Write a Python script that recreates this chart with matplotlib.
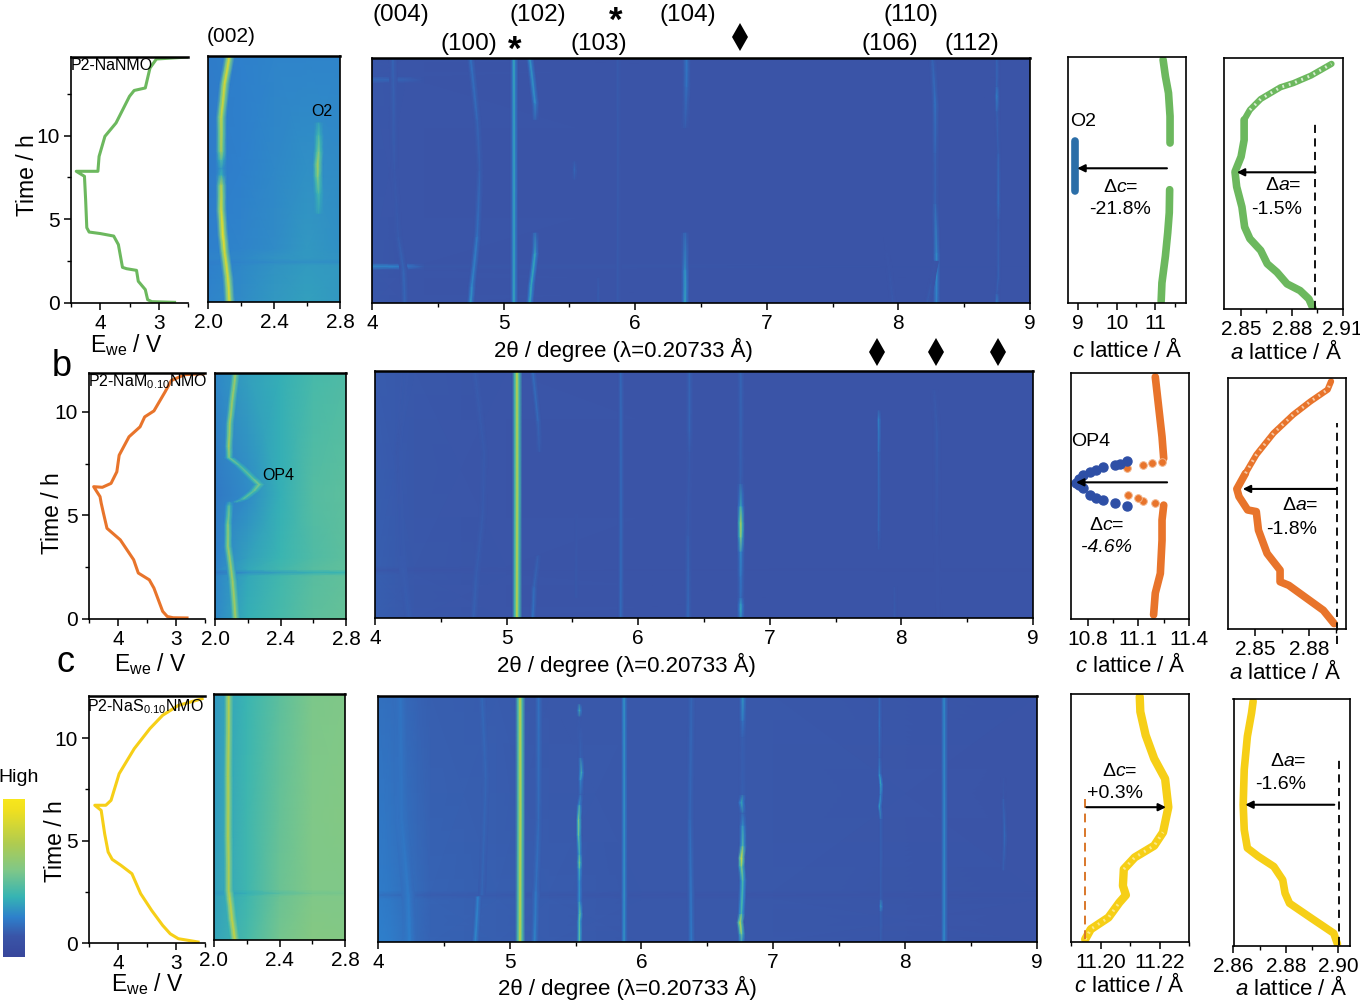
import numpy as np
import matplotlib
matplotlib.use("Agg")
import matplotlib.pyplot as plt
from matplotlib.colors import LinearSegmentedColormap
from matplotlib.lines import Line2D
from matplotlib.ticker import MultipleLocator

plt.rcParams['font.family'] = ['Liberation Sans', 'DejaVu Sans']
plt.rcParams['mathtext.fontset'] = 'custom'
plt.rcParams['mathtext.rm'] = 'Liberation Sans'
plt.rcParams['mathtext.it'] = 'Liberation Sans:italic'
plt.rcParams['mathtext.bf'] = 'Liberation Sans:bold'

W, H = 1360, 1005
fig = plt.figure(figsize=(W / 100, H / 100), dpi=100, facecolor='white')

cmap = LinearSegmentedColormap.from_list('xrd', [
    (0.00, '#38479c'), (0.13, '#3a55a8'), (0.25, '#2e80cc'), (0.38, '#36b4b4'),
    (0.55, '#80c888'), (0.72, '#b0cc50'), (0.93, '#f0e020'), (1.00, '#f8e71c')])

# ---------- voltage curves ----------
a_E = [2.73, 3.12, 3.19, 3.23, 3.35, 3.38, 3.55, 3.62, 3.69, 3.77, 4.0, 4.19, 4.23, 4.25, 4.27, 4.41, 4.04, 4.02, 3.92, 3.73, 3.5, 3.42, 3.23, 3.15, 3.04, 2.5]
a_Et = [0.04, 0.08, 0.2, 0.8, 1.3, 1.95, 2.05, 2.13, 3.49, 4.0, 4.15, 4.24, 4.5, 6.18, 7.57, 7.87, 7.87, 8.76, 9.96, 10.76, 12.35, 12.7, 12.85, 14.04, 14.58, 14.7]
b_E = [2.81, 3.05, 3.15, 3.23, 3.38, 3.46, 3.65, 3.73, 3.96, 4.19, 4.25, 4.29, 4.31, 4.42, 4.27, 4.12, 4.02, 3.98, 3.81, 3.62, 3.54, 3.38, 3.19, 3.08, 2.85, 2.5]
b_Et = [0.05, 0.06, 0.12, 0.37, 1.49, 1.89, 2.22, 2.86, 3.82, 4.38, 5.1, 5.6, 5.91, 6.39, 6.36, 6.55, 7.11, 7.91, 8.8, 9.28, 9.76, 10.05, 10.96, 11.52, 11.8, 11.85]
c_E = [2.62, 2.96, 3.1, 3.23, 3.42, 3.61, 3.76, 3.95, 4.1, 4.17, 4.23, 4.29, 4.4, 4.21, 4.12, 3.98, 3.72, 3.45, 3.23, 2.96, 2.55]
c_Et = [0.05, 0.21, 0.45, 0.86, 1.59, 2.41, 3.38, 3.79, 4.08, 4.44, 5.33, 6.47, 6.72, 6.72, 6.96, 8.26, 9.48, 10.46, 11.11, 11.59, 11.92]

# ---------- lattice parameters ----------
a_c_low = [11.15, 11.17, 11.26, 11.32, 11.36, 11.37]
a_c_low_t = [0.1, 1.2, 2.8, 4.2, 5.4, 6.77]
a_c_up = [11.38, 11.38, 11.34, 11.26, 11.2]
a_c_up_t = [9.56, 11.16, 12.55, 13.55, 14.54]
a_c_o2 = [8.91, 8.91]
a_c_o2_t = [6.67, 9.66]
a_a = [2.8927, 2.8901, 2.8849, 2.8772, 2.8712, 2.8655, 2.8616, 2.8552, 2.8521, 2.8505, 2.8474, 2.8464, 2.85, 2.8518, 2.8518, 2.8552, 2.8616, 2.8733, 2.881, 2.8914, 2.9035]
a_a_t = [0, 0.6, 1.1, 1.5, 2.2, 2.7, 3.5, 4.2, 4.9, 6.1, 7.3, 8.2, 9.1, 10.1, 11.3, 11.9, 12.55, 13.25, 13.5, 13.95, 14.65]

b_c_low = [11.19, 11.2, 11.23, 11.24, 11.24, 11.25]
b_c_low_t = [0.2, 1.25, 2.2, 3.8, 4.78, 5.5]
b_c_up = [11.25, 11.24, 11.22, 11.2]
b_c_up_t = [7.75, 8.8, 10.24, 11.69]
b_c_dots = [11.2, 11.13, 11.1, 11.04, 11.24, 11.18, 11.13, 11.03]
b_c_dots_t = [5.59, 5.7, 5.83, 5.99, 7.59, 7.51, 7.43, 7.27]
b_c_op4 = [11.03, 10.96, 10.89, 10.85, 10.81, 10.77, 10.75, 10.73, 10.75, 10.77, 10.81, 10.85, 10.89, 10.96, 10.99, 11.03]
b_c_op4_t = [5.47, 5.59, 5.75, 5.85, 5.99, 6.31, 6.45, 6.58, 6.78, 6.95, 7.11, 7.19, 7.32, 7.43, 7.47, 7.64]
b_a = [2.8939, 2.8879, 2.8687, 2.8639, 2.8639, 2.8567, 2.8519, 2.8507, 2.8459, 2.8411, 2.8399, 2.8447, 2.8507, 2.8603, 2.8711, 2.8807, 2.8903, 2.8922]
b_a_t = [0.16, 0.8, 2.0, 2.17, 2.73, 3.53, 4.65, 5.54, 5.62, 6.26, 6.63, 7.38, 8.27, 9.31, 10.19, 10.83, 11.4, 11.8]

c_c = [11.1948, 11.1967, 11.2027, 11.2064, 11.2086, 11.2076, 11.2079, 11.2116, 11.2182, 11.2212, 11.223, 11.2219, 11.2182, 11.2153, 11.2135, 11.2133]
c_c_t = [0.13, 0.62, 1.19, 1.92, 2.28, 2.73, 3.54, 4.11, 4.68, 5.33, 6.55, 7.93, 8.91, 10.05, 11.19, 11.92]
c_a = [2.8997, 2.8983, 2.8898, 2.8814, 2.8797, 2.8788, 2.8754, 2.8695, 2.8653, 2.8641, 2.8637, 2.8641, 2.8653, 2.8669, 2.8675]
c_a_t = [0.05, 0.57, 1.3, 2.03, 2.52, 3.17, 3.82, 4.31, 4.72, 5.61, 6.83, 8.54, 10.16, 11.3, 11.87]

# ---------- (002) maps: background levels (rows = time, columns = 2theta) ----------
low_x = [2.0, 2.2, 2.4, 2.6, 2.8]
a_low_t = [0, 2.2, 2.4, 2.6, 3.2, 8, 14.7]
a_low = [[.26, .28, .31, .33, .31], [.25, .27, .30, .32, .31], [.245, .26, .28, .29, .285], [.26, .27, .30, .31, .30],
         [.25, .26, .28, .31, .29], [.24, .25, .27, .29, .28], [.24, .25, .26, .26, .26]]
b_low_t = [0, 2.1, 2.25, 2.4, 3, 6, 11.9]
b_low = [[.27, .37, .42, .47, .49], [.26, .35, .41, .46, .48], [.23, .29, .33, .37, .39], [.26, .35, .41, .46, .48],
         [.25, .33, .39, .44, .47], [.23, .28, .37, .45, .47], [.27, .33, .37, .42, .44]]
c_low_t = [0, 2.15, 2.3, 2.45, 6, 12]
c_low = [[.34, .42, .52, .57, .56], [.33, .40, .50, .55, .55], [.31, .37, .46, .52, .53], [.33, .40, .50, .55, .55],
         [.32, .40, .49, .55, .56], [.31, .39, .47, .54, .55]]

# (002) peak traces: (time, 2theta, level)
a_002 = [(0, 2.13, .85), (1.5, 2.12, .85), (3, 2.10, .85), (4, 2.09, .92), (5.5, 2.08, .85), (7, 2.08, .75), (7.6, 2.08, .38), (8, 2.08, .32),
         (8.5, 2.08, .45), (9, 2.08, .7), (11, 2.08, .8), (13, 2.10, .85), (14.7, 2.13, .85)]
a_o2 = [(5.3, 2.67, .33), (6.5, 2.67, .42), (7.5, 2.665, .58), (8.2, 2.665, .68), (9, 2.67, .55), (10, 2.67, .42), (10.7, 2.67, .33)]
b_002_low = [(0, 2.126, .68), (1.9, 2.107, .68), (3.5, 2.08, .65), (4.6, 2.08, .6), (5.5, 2.087, .45), (5.65, 2.09, .3)]
b_op4 = [(5.65, 2.13, .32), (5.8, 2.175, .45), (6.2, 2.24, .5), (6.5, 2.27, .55), (6.8, 2.23, .5), (7.43, 2.148, .45), (7.8, 2.087, .55)]
b_002_up = [(7.8, 2.087, .55), (8.3, 2.085, .68), (9.4, 2.09, .68), (10.5, 2.105, .66), (11.9, 2.126, .66)]
c_002 = [(0, 2.128, .78), (1, 2.11, .78), (2.1, 2.095, .76), (2.4, 2.09, .72), (5, 2.087, .74), (8, 2.087, .74), (12, 2.09, .74)]

# ---------- main maps: background levels ----------
a_main_x = [4.0, 4.25, 4.4, 9.0]
a_main_t = [0, 2.0, 2.2, 2.4, 13.2, 13.4, 13.6, 14.7]
a_main = [[.14, .13, .13, .12], [.14, .13, .13, .12], [.27, .24, .14, .12], [.14, .13, .13, .12],
          [.14, .13, .13, .12], [.19, .17, .13, .12], [.14, .13, .13, .12], [.14, .13, .13, .12]]
b_main_x = [4.0, 4.3, 5.0, 9.0]
b_main_t = [0, 2.1, 2.3, 2.5, 11.9]
b_main = [[.16, .14, .13, .12], [.16, .14, .13, .12], [.14, .125, .12, .115], [.16, .14, .13, .12], [.15, .14, .13, .12]]
c_main_x = [4.0, 4.1, 4.3, 4.4, 4.9, 5.3, 6.0, 6.6, 7.0, 9.0]
c_main_t = [0, 2.1, 2.3, 2.5, 12]
c_main = [[.25, .24, .19, .17, .16, .15, .14, .14, .14, .12], [.24, .23, .19, .17, .16, .15, .14, .14, .14, .12],
          [.21, .20, .17, .155, .145, .14, .13, .13, .13, .115], [.24, .23, .19, .17, .16, .15, .14, .14, .14, .12],
          [.21, .20, .17, .16, .15, .14, .14, .14, .14, .12]]

# main-map peak traces: (time, 2theta, level)
a_star = [(0, 5.08, .34), (14.7, 5.08, .34)]
a_004 = [(0, 4.25, .18), (2, 4.24, .18), (4, 4.2, .15), (8, 4.17, .14), (14.7, 4.16, .18)]
a_100 = [(0, 4.75, .31), (1, 4.76, .28), (4, 4.80, .22), (8, 4.82, .16), (11, 4.80, .18), (14.7, 4.75, .22)]
a_102_low = [(0, 5.2, .34), (1, 5.21, .36), (3, 5.24, .34), (4.2, 5.24, .18)]
a_102_up = [(11, 5.24, .16), (12, 5.24, .28), (14.7, 5.2, .31)]
a_103 = [(0, 5.87, .15), (14.7, 5.87, .15)]
a_103b = [(0, 5.72, .17), (1.5, 5.72, .14)]
a_spot = [(7.4, 5.54, .12), (8, 5.54, .2), (8.5, 5.54, .12)]
a_104_low = [(0, 6.38, .34), (2, 6.38, .3), (4.2, 6.38, .17)]
a_104_up = [(10.5, 6.38, .14), (13, 6.39, .22), (14.7, 6.39, .23)]
a_110 = [(0, 8.29, .26), (3, 8.29, .29), (6, 8.28, .17), (9, 8.28, .17), (12, 8.28, .22), (14.7, 8.26, .16)]
a_110b = [(0, 8.22, .16), (1.2, 8.25, .14), (2.5, 8.28, .13)]
a_106 = [(0, 7.96, .15), (2, 7.93, .13), (4, 7.9, .125)]
a_112 = [(0, 8.75, .28), (0.6, 8.75, .15), (1.5, 8.76, .18), (5, 8.76, .15), (6, 8.76, .22), (9, 8.76, .16), (11.5, 8.75, .17), (12.4, 8.75, .27), (13, 8.75, .18), (14.7, 8.75, .18)]

b_star = [(0, 5.08, .76), (11.9, 5.08, .76)]
b_100 = [(0, 4.75, .17), (2, 4.77, .16), (5, 4.82, .15), (8, 4.83, .145), (11.9, 4.76, .155)]
b_004 = [(0, 4.26, .16), (3, 4.2, .145), (8, 4.17, .14), (11.9, 4.23, .145)]
b_102_low = [(0, 5.2, .23), (1.5, 5.21, .19), (3, 5.24, .15)]
b_102_up = [(8, 5.25, .14), (9.5, 5.24, .19), (11.9, 5.2, .2)]
b_103 = [(0, 5.87, .2), (11.9, 5.87, .19)]
b_103b = [(1, 5.53, .15), (5, 5.53, .135)]
b_104 = [(0, 6.38, .2), (4, 6.38, .15), (8, 6.39, .145), (9, 6.39, .18), (11.9, 6.39, .18)]
b_d1 = [(0, 6.78, .25), (0.4, 6.78, .35), (0.7, 6.78, .32), (1, 6.78, .2), (2, 6.78, .22), (3.2, 6.78, .28), (3.9, 6.78, .58), (4.6, 6.78, .72), (5.4, 6.78, .36), (6.5, 6.78, .16), (11.9, 6.78, .18)]
b_d2 = [(3.3, 7.83, .14), (4.2, 7.83, .18), (8, 7.83, .2), (9.6, 7.83, .28), (10, 7.83, .14)]
b_d3 = [(0, 8.28, .13), (4, 8.27, .135), (9, 8.27, .16), (11, 8.25, .135)]
b_106 = [(0, 7.95, .16), (1.5, 7.95, .135)]

c_star = [(0, 5.08, .78), (12, 5.08, .78)]
c_004 = [(0, 4.24, .25), (2.2, 4.23, .24), (6, 4.18, .22), (12, 4.17, .22)]
c_100_low = [(0, 4.74, .28), (2.2, 4.76, .25)]
c_100_up = [(2.3, 4.79, .18), (8, 4.82, .18), (12, 4.79, .19)]
c_102 = [(0, 5.19, .27), (2.5, 5.2, .22), (6, 5.22, .19), (12, 5.22, .22)]
c_55 = [(0, 5.53, .5), (1, 5.53, .45), (1.4, 5.535, .5), (2, 5.53, .3), (3, 5.53, .3), (3.6, 5.53, .42), (3.9, 5.53, .62), (4.3, 5.53, .34), (5.2, 5.525, .5), (6, 5.525, .58), (6.7, 5.53, .32), (7.2, 5.54, .17), (7.9, 5.54, .28), (8.3, 5.545, .42), (9, 5.54, .18), (11, 5.53, .13), (11.3, 5.53, .42), (11.6, 5.53, .14)]
c_103 = [(0, 5.87, .3), (12, 5.87, .3)]
c_104 = [(0, 6.38, .25), (6, 6.37, .18), (12, 6.38, .18)]
c_d1 = [(0, 6.76, .3), (0.4, 6.76, .55), (0.95, 6.75, .82), (1.4, 6.76, .42), (3, 6.77, .42), (3.7, 6.76, .6), (4.1, 6.76, .9), (4.7, 6.77, .45), (5.7, 6.77, .3), (6.3, 6.77, .17), (6.8, 6.76, .38), (7.2, 6.77, .16), (10, 6.77, .16), (10.8, 6.77, .22), (12, 6.77, .32)]
c_d2 = [(0, 7.82, .16), (1.5, 7.82, .17), (1.75, 7.82, .34), (2.1, 7.82, .16), (6, 7.82, .17), (6.6, 7.81, .34), (7.2, 7.82, .24), (7.7, 7.82, .38), (8.2, 7.81, .28), (9, 7.81, .16), (10.5, 7.81, .22), (12, 7.81, .18)]
c_d3 = [(0, 8.3, .28), (12, 8.3, .28)]
c_d4 = [(3.5, 8.75, .14), (5.2, 8.76, .21), (7, 8.75, .145), (8, 8.75, .135)]

ROWS_TEXT = ['P2-NaNMO', r'P2-NaM$_{0.10}$NMO', r'P2-NaS$_{0.10}$NMO']
GREEN, ORANGE, YELLOW, BLUE1, BLUE2 = '#6cb85e', '#e8742b', '#f6cf17', '#2b6ea8', '#2e4fa6'
LS = 15


def pax(l, r, t, b):
    ax = fig.add_axes([l / W, 1 - b / H, (r - l) / W, (b - t) / H])
    ax.tick_params(which='major', length=5, width=1.1, labelsize=LS, pad=3)
    ax.tick_params(which='minor', length=3, width=1.0)
    for s in ax.spines.values():
        s.set_linewidth(1.2)
    return ax


def txt(x, y, s, size=LS, rot=0, **kw):
    fig.text(x / W, 1 - y / H, s, fontsize=size, rotation=rot, ha='center', va='center', **kw)


def bg_at(xs, ts, m, x, t):
    row = [np.interp(x, xs, r) for r in m]
    return np.interp(t, ts, row)


def heat(ax, xs, ts, m, traces, xlim, ylim):
    ax.pcolormesh(xs, ts, np.array(m), shading='gouraud', cmap=cmap, vmin=0, vmax=1)
    for tr, w in traces:
        arr = np.array(tr)
        t, x, v = arr[:, 0], arr[:, 1], arr[:, 2]
        off = np.array([-2.3, -1, 0, 1, 2.3]) * w
        X = np.array([x + o for o in off]).T
        T = np.array([t for _ in off]).T
        C = np.zeros_like(X)
        for i in range(len(t)):
            for j, f in enumerate([0, .45, 1, .45, 0]):
                b = bg_at(xs, ts, m, X[i, j], t[i])
                C[i, j] = b + f * (v[i] - b)
        ax.pcolormesh(X, T, C, shading='gouraud', cmap=cmap, vmin=0, vmax=1)
    ax.set_xlim(*xlim)
    ax.set_ylim(*ylim)
    ax.set_yticks([])


def e_panel(box, E, t, col, ylim, label, lx, ly):
    ax = pax(*box)
    ax.plot(E, t, color=col, lw=2.2, solid_joinstyle='round')
    ax.set_xlim(4.5, 2.5)
    ax.set_ylim(*ylim)
    ax.set_xticks([4, 3])
    ax.xaxis.set_minor_locator(MultipleLocator(0.5))
    ax.set_yticks([0, 5, 10])
    ax.yaxis.set_minor_locator(MultipleLocator(2.5))
    ax.spines['right'].set_visible(False)
    ax.spines['top'].set_linewidth(1.8)
    txt(lx, ly, label, 11.5)
    return ax


def low_panel(box, ts, m, traces, ylim):
    ax = pax(*box)
    heat(ax, low_x, ts, m, traces, (2.0, 2.8), ylim)
    ax.set_xticks([2.0, 2.4, 2.8])
    ax.set_xticklabels(['2.0', '2.4', '2.8'])
    ax.set_xticks([2.2, 2.6], minor=True)
    ax.spines['top'].set_linewidth(1.8)
    return ax


def main_panel(box, xs, ts, m, traces, ylim):
    ax = pax(*box)
    heat(ax, xs, ts, m, traces, (4, 9), ylim)
    ax.set_xticks([4, 5, 6, 7, 8, 9])
    ax.set_xticks([4.5, 5.5, 6.5, 7.5, 8.5], minor=True)
    ax.spines['top'].set_linewidth(1.8)
    return ax


def lat(ax, x, t, col, lw=5.5):
    ax.plot(x, t, '-', color=col, lw=lw, solid_capstyle='round', solid_joinstyle='round')


def holes(ax, x, t, col):
    ax.plot(x, t, color=col, lw=2.2, ls=(0, (0.6, 1.6)))


def arrow(ax, x0, x1, t):
    ax.annotate('', xy=(x1, t), xytext=(x0, t),
                arrowprops=dict(arrowstyle='-|>', color='k', lw=1.5, shrinkA=0, shrinkB=0, mutation_scale=11))


def lat_axes(box, xlim, ylim, major, labels, minor):
    ax = pax(*box)
    ax.set_xlim(*xlim)
    ax.set_ylim(*ylim)
    ax.set_xticks(major)
    ax.set_xticklabels(labels)
    ax.set_xticks(minor, minor=True)
    ax.set_yticks([])
    return ax


# ---------- row a ----------
e_panel((71, 188, 57, 303), a_E, a_Et, GREEN, (0, 14.7), ROWS_TEXT[0], 112, 66)
low_panel((208, 340, 56, 302), a_low_t, a_low, [(a_002, .014), (a_o2, .013)], (0, 14.7))
main_panel((372, 1030, 58, 303), a_main_x, a_main_t, a_main,
           [(a_004, .012), (a_100, .012), (a_star, .012), (a_102_low, .012), (a_102_up, .012), (a_103, .008), (a_103b, .006), (a_spot, .008),
            (a_104_low, .013), (a_104_up, .013), (a_110, .012), (a_110b, .01), (a_106, .01), (a_112, .008)], (0, 14.7))
ax = lat_axes((1068, 1185.5, 57, 303), (8.74, 11.78), (0, 14.7), [9, 10, 11], ['9', '10', '11'], [9.5, 10.5, 11.5])
lat(ax, a_c_low, a_c_low_t, GREEN); lat(ax, a_c_up, a_c_up_t, GREEN); lat(ax, a_c_o2, a_c_o2_t, BLUE1)
arrow(ax, 11.3, 8.98, 8.05)
ax = lat_axes((1223.5, 1342.5, 58, 309), (2.8396, 2.91), (0, 15.0), [2.85, 2.88, 2.91], ['2.85', '2.88', '2.91'], [2.865, 2.895])
lat(ax, a_a[:15], a_a_t[:15], GREEN)
lat(ax, a_a[14:], a_a_t[14:], GREEN, lw=4.5)
holes(ax, a_a[15:], a_a_t[15:], '#d6ecd0')
ax.plot([2.894, 2.894], [0, 11.25], color='k', lw=1.3, ls=(0, (4.5, 3)))
arrow(ax, 2.894, 2.8475, 8.17)

# ---------- row b ----------
e_panel((89, 205, 373, 619), b_E, b_Et, ORANGE, (0, 11.88), ROWS_TEXT[1], 148, 382)
low_panel((215, 346, 373, 619), b_low_t, b_low, [(b_002_low, .011), (b_op4, .014), (b_002_up, .011)], (0, 11.88))
main_panel((375, 1033, 371, 618), b_main_x, b_main_t, b_main,
           [(b_004, .012), (b_100, .012), (b_star, .016), (b_102_low, .01), (b_102_up, .01), (b_103, .009), (b_103b, .006), (b_104, .011),
            (b_d1, .012), (b_d2, .007), (b_d3, .012), (b_106, .007)], (0, 11.9))
ax = lat_axes((1071, 1189, 373, 619), (10.70, 11.4), (0, 11.88), [10.8, 11.1, 11.4], ['10.8', '11.1', '11.4'], [10.95, 11.25])
lat(ax, b_c_low, b_c_low_t, ORANGE); lat(ax, b_c_up, b_c_up_t, ORANGE)
ax.plot(b_c_dots, b_c_dots_t, 'o', color=ORANGE, ms=5.5, mec='#f2b48a', mew=0.7)
ax.plot(b_c_op4, b_c_op4_t, 'o', color=BLUE2, ms=6.5)
arrow(ax, 11.27, 10.73, 6.6)
ax = lat_axes((1228, 1346, 378, 629), (2.835, 2.9005), (-0.1, 11.96), [2.85, 2.88], ['2.85', '2.88'], [2.865, 2.895])
lat(ax, b_a[:12], b_a_t[:12], ORANGE)
lat(ax, b_a[11:], b_a_t[11:], ORANGE, lw=4.5)
holes(ax, b_a[11:], b_a_t[11:], '#f6c6a2')
ax.plot([2.8956, 2.8956], [-0.8, 9.8], color='k', lw=1.3, ls=(0, (4.5, 3)), clip_on=False)
arrow(ax, 2.8952, 2.8432, 6.63)

# ---------- row c ----------
e_panel((89, 205, 696, 943), c_E, c_Et, YELLOW, (0, 12.05), ROWS_TEXT[2], 145, 707)
low_panel((214, 345, 694, 940), c_low_t, c_low, [(c_002, .012)], (0, 12.0))
main_panel((378, 1036.5, 696, 942), c_main_x, c_main_t, c_main,
           [(c_004, .02), (c_100_low, .011), (c_100_up, .011), (c_102, .012), (c_star, .016), (c_55, .009), (c_103, .01), (c_104, .012),
            (c_d1, .012), (c_d2, .007), (c_d3, .011), (c_d4, .008)], (0, 12))
ax = lat_axes((1071, 1189, 694, 942), (11.19, 11.23), (0, 12.05), [11.20, 11.22], ['11.20', '11.22'], [11.19, 11.21, 11.23])
lat(ax, c_c, c_c_t, YELLOW, lw=6)
holes(ax, c_c[:4], c_c_t[:4], '#fbe88a')
holes(ax, c_c[6:10], c_c_t[6:10], '#fbe88a')
ax.plot([11.1948, 11.1948], [0.13, 6.96], color='#d9772a', lw=1.4, ls=(0, (4.5, 3)))
arrow(ax, 11.1952, 11.2222, 6.55)
ax = lat_axes((1233.5, 1350, 699, 946), (2.86, 2.9045), (-0.05, 11.98), [2.86, 2.88, 2.90], ['2.86', '2.88', '2.90'], [2.87, 2.89])
lat(ax, c_a, c_a_t, YELLOW)
ax.plot([2.9003, 2.9003], [0, 9.2], color='k', lw=1.3, ls=(0, (4.5, 3)))
arrow(ax, 2.8985, 2.8645, 6.83)

# ---------- colour bar ----------
cax = fig.add_axes([3 / W, 1 - 957 / H, 22 / W, 158 / H])
cax.imshow(np.linspace(1, 0, 256)[:, None], aspect='auto', cmap=cmap, vmin=0, vmax=1)
cax.set_xticks([]); cax.set_yticks([])
for s in cax.spines.values():
    s.set_visible(False)
txt(19, 777, 'High', 14)

# ---------- labels ----------
for x, y in [(28, 175), (52, 513), (56, 841)]:
    txt(x, y, 'Time / h', 16.5, rot=90)
for x, y in [(126, 345), (150, 664), (147, 984)]:
    txt(x, y, r'E$_{\mathrm{we}}$ / V', 16.5)
for x, y in [(623, 350), (626, 665), (627, 988)]:
    txt(x, y, '2θ / degree (λ=0.20733 Å)', 16)
for x, y in [(1127, 350), (1130, 665), (1129, 985)]:
    txt(x, y, r'$\mathit{c}$ lattice / Å', 16)
for x, y in [(1286, 352), (1285, 672), (1291, 988)]:
    txt(x, y, r'$\mathit{a}$ lattice / Å', 16)

for x, y, s in [(401, 15, '(004)'), (469, 44, '(100)'), (538, 15, '(102)'), (599, 44, '(103)'),
                (688, 15, '(104)'), (911, 15, '(110)'), (890, 44, '(106)'), (972, 44, '(112)')]:
    txt(x, y, s, 17.5)
txt(231, 37, '(002)', 15)
txt(515, 50, '*', 25, fontweight='bold')
txt(616, 21, '*', 25, fontweight='bold')
for x, y in [(740, 37), (877, 352), (936, 352), (998, 352)]:
    fig.add_artist(Line2D([x / W], [1 - y / H], marker='d', ms=14, mew=0, color='k', ls='none', transform=fig.transFigure))

txt(62, 366, 'b', 26)
txt(65, 662, 'c', 26)
txt(322, 111, 'O2', 11.5)
txt(278, 475, 'OP4', 11.5)
txt(1083, 122, 'O2', 14)
txt(1091, 442, 'OP4', 14)
txt(1121, 187, r'Δ$\mathit{c}$=', 14)
txt(1120, 210, '-21.8%', 14)
txt(1283, 185, r'Δ$\mathit{a}$=', 14)
txt(1277, 209, '-1.5%', 14)
txt(1107, 525, r'Δ$\mathit{c}$=', 14)
txt(1107, 548, '-4.6%', 14, style='italic')
txt(1300, 505, r'Δ$\mathit{a}$=', 14)
txt(1292, 529, '-1.8%', 14)
txt(1120, 771, r'Δ$\mathit{c}$=', 14)
txt(1115, 794, '+0.3%', 14)
txt(1288, 761, r'Δ$\mathit{a}$=', 14)
txt(1281, 784, '-1.6%', 14)

fig.savefig('out.png', dpi=100, facecolor='white')
